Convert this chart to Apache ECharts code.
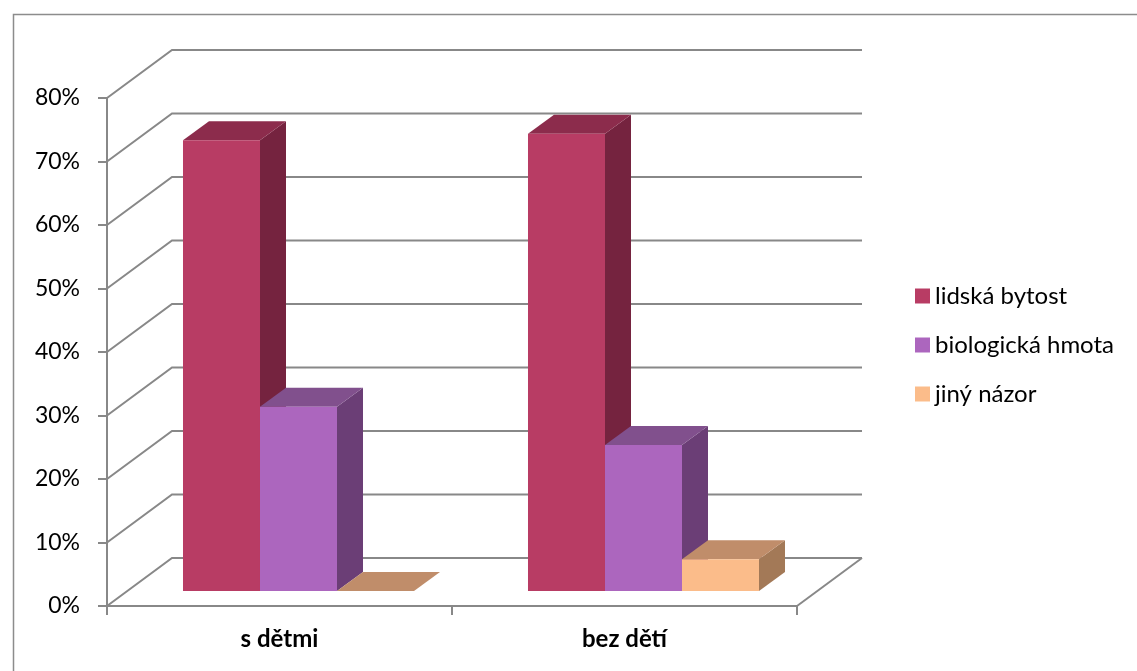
<!DOCTYPE html>
<html>
<head>
<meta charset="utf-8">
<script src="https://cdn.jsdelivr.net/npm/echarts@6/dist/echarts.min.js"></script>
<style>
html,body{margin:0;padding:0;background:#fff;}
#chart{width:1137px;height:671px;}
</style>
</head>
<body>
<div id="chart"></div>
<script>
// ---- data ----
const categories = ['s dětmi', 'bez dětí'];
const seriesNames = ['lidská bytost', 'biologická hmota', 'jiný názor'];
const lidskaBytost = [71, 72];
const biologickaHmota = [29, 23];
const jinyNazor = [0, 5];
const yTicks = [0, 10, 20, 30, 40, 50, 60, 70, 80];

// ---- styling ----
const FONT = 'Lato, "Open Sans", sans-serif';
const GRID_COLOR = '#888888';
const WALL_DX = 65, WALL_DY = -48;      // depth offset of back wall
const BAR_DX = 19, BAR_DY = -15;        // front plane of bars
const DEPTH_DX = 26, DEPTH_DY = -19;    // bar depth
const BAR_FRAC = 0.2232;                // bar width as fraction of band
const palettes = [
  {front: '#B83C64', top: '#8C2C4C', side: '#75233F'},
  {front: '#AC66BE', top: '#81508D', side: '#6B3E76'},
  {front: '#FBBC8A', top: '#C08D6A', side: '#A37957'}
];
const seriesValues = [lidskaBytost, biologickaHmota, jinyNazor];

const chart = echarts.init(document.getElementById('chart'), null, {renderer: 'canvas'});

function wallItem(params, api) {
  const cs = params.coordSys;
  const v = api.value(0);
  const y = api.coord([0, v])[1];
  const left = cs.x, right = cs.x + cs.width;
  const st = {stroke: GRID_COLOR, lineWidth: 2, fill: null};
  const children = [
    {type: 'polyline', shape: {points: [[left, y], [left + WALL_DX, y + WALL_DY], [right + WALL_DX, y + WALL_DY]]}, style: st}
  ];
  if (v === 0) {
    children.push({type: 'line', shape: {x1: right, y1: y, x2: right + WALL_DX, y2: y + WALL_DY}, style: st});
  }
  return {type: 'group', children: children};
}

function makeBarRender(si) {
  const pal = palettes[si];
  return function (params, api) {
    const cat = api.value(0);
    const val = api.value(1);
    const c0 = api.coord([cat, 0]);
    const c1 = api.coord([cat, val]);
    const bw = api.size([1, 0])[0];
    const w = bw * BAR_FRAC;
    const x0 = c0[0] + BAR_DX - 1.5 * w + si * w;
    const x1 = x0 + w;
    const yb = c0[1] + BAR_DY;
    const yt = c1[1] + BAR_DY;
    return {
      type: 'group',
      children: [
        {type: 'polygon', shape: {points: [[x1, yt], [x1 + DEPTH_DX, yt + DEPTH_DY], [x1 + DEPTH_DX, yb + DEPTH_DY], [x1, yb]]}, style: {fill: pal.side}},
        {type: 'polygon', shape: {points: [[x0, yt], [x1, yt], [x1 + DEPTH_DX, yt + DEPTH_DY], [x0 + DEPTH_DX, yt + DEPTH_DY]]}, style: {fill: pal.top}},
        {type: 'rect', shape: {x: x0, y: yt, width: w, height: yb - yt}, style: {fill: pal.front}}
      ]
    };
  };
}

const series = [{
  type: 'custom',
  name: 'walls',
  silent: true,
  clip: false,
  z: 1,
  renderItem: wallItem,
  data: yTicks.map(v => [v])
}];
seriesNames.forEach((name, si) => {
  series.push({
    type: 'custom',
    name: name,
    clip: false,
    z: 2 + si,
    itemStyle: {color: palettes[si].front},
    renderItem: makeBarRender(si),
    encode: {x: 0, y: 1},
    data: categories.map((c, ci) => [ci, seriesValues[si][ci]])
  });
});

chart.setOption({
  animation: false,
  backgroundColor: '#ffffff',
  graphic: [{
    type: 'rect', left: 11, top: 12, shape: {width: 1140, height: 700},
    style: {fill: null, stroke: '#8c8c8c', lineWidth: 1.5}, silent: true, z: 0
  }],
  grid: {left: 107, top: 98, width: 690, height: 508, containLabel: false},
  legend: {
    data: seriesNames,
    orient: 'vertical',
    left: 915,
    top: 284,
    padding: 0,
    itemWidth: 15,
    itemHeight: 15,
    itemGap: 25,
    icon: 'rect',
    selectedMode: false,
    textStyle: {fontFamily: FONT, fontSize: 24, color: '#000', lineHeight: 24, padding: [0, 0, 0, 0]}
  },
  xAxis: {
    type: 'category',
    data: categories,
    boundaryGap: true,
    axisLine: {lineStyle: {color: GRID_COLOR, width: 2}},
    axisTick: {show: true, length: 9, lineStyle: {color: GRID_COLOR, width: 2}},
    axisLabel: {fontFamily: FONT, fontSize: 24, fontWeight: 'bold', color: '#000', margin: 21}
  },
  yAxis: {
    type: 'value',
    min: 0, max: 80, interval: 10,
    axisLine: {show: true, lineStyle: {color: GRID_COLOR, width: 2}},
    axisTick: {show: true, length: 9, lineStyle: {color: GRID_COLOR, width: 2}},
    splitLine: {show: false},
    axisLabel: {fontFamily: FONT, fontSize: 23, color: '#000', margin: 27, formatter: '{value}%'}
  },
  series: series
});
</script>
</body>
</html>
